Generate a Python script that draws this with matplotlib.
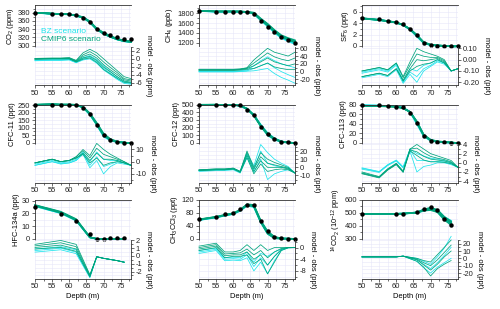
import numpy as np
import matplotlib.pyplot as plt
from matplotlib.ticker import MultipleLocator, AutoMinorLocator, FormatStrFormatter

plt.rcParams['font.family'] = ['Liberation Sans', 'DejaVu Sans']
plt.rcParams['mathtext.default'] = 'regular'
plt.rcParams['axes.unicode_minus'] = False

# depths of the firn samples (m)
depth_std = [50, 55, 57.5, 60, 62, 64, 66, 68, 70, 72, 74, 76, 78]
depth_hfc = [50, 57.5, 62, 66, 68, 70, 72, 74, 76]
depth_c14 = [50, 60, 62, 66, 68, 70, 72, 74, 76]

# observations
co2_obs = [380, 377.6, 376.8, 376, 373.5, 368, 356.6, 340.4, 331.5, 325, 320, 316.8, 315.2]
ch4_obs = [1848, 1834, 1834, 1834, 1832, 1820, 1786, 1650, 1527, 1411, 1309, 1255, 1200]
sf6_obs = [4.95, 4.65, 4.45, 4.15, 3.85, 3.0, 1.85, 0.6, 0.2, 0.08, 0.04, 0.03, 0.02]
cfc11_obs = [255, 255, 255, 254, 250, 230, 192, 118, 51, 18, 4, 1, 0]
cfc12_obs = [502, 502, 498, 498, 492, 430, 364, 211, 110, 48, 13, 4, 2]
cfc113_obs = [80, 80, 78, 76, 74.5, 62, 41, 14, 4.5, 1.5, 0.7, 0.3, 0.1]
hfc_obs = [25, 19.3, 14, 3.9, 0.2, 0.3, 0.5, 0.6, 0.8]
mcf_obs = [60, 67, 76, 81, 91, 106, 106, 56, 25, 7, 2, 1, 0.5]
c14_obs = [492, 492, 492, 505, 530, 546, 520, 456, 410]

# model - obs, CMIP6 scenario members
co2_cmip6 = [[0.1, 0.2, 0.2, 0.3, -0.4, 1.5, 2.4, 1.5, 0.0, -1.5, -3.0, -4.5, -5.0],
             [0.0, 0.1, 0.1, 0.2, -0.5, 1.0, 1.8, 0.8, -0.8, -2.2, -3.5, -5.0, -5.3],
             [0.0, 0.1, 0.1, 0.1, -0.6, 0.6, 1.2, 0.2, -1.5, -2.8, -4.0, -5.3, -5.6],
             [-0.1, 0.0, 0.0, 0.0, -0.7, 0.2, 0.6, -0.4, -2.1, -3.3, -4.5, -5.6, -5.9],
             [-0.1, 0.0, 0.0, 0.0, -0.8, -0.1, 0.2, -0.9, -2.7, -3.8, -4.9, -5.9, -6.1]]
ch4_cmip6 = [[6, 6, 6, 6, 7, 10, 30, 45, 60, 50, 45, 40, 50],
             [5, 5, 5, 5, 6, 9, 22, 35, 48, 38, 32, 28, 35],
             [4, 4, 4, 4, 5, 8, 15, 25, 35, 25, 20, 15, 20],
             [3, 3, 3, 3, 4, 6, 8, 15, 22, 12, 8, 5, 5]]
sf6_cmip6 = [[-0.10, -0.07, -0.09, -0.03, -0.15, -0.02, 0.10, 0.07, 0.05, 0.03, 0.0, -0.10, -0.08],
             [-0.10, -0.07, -0.09, -0.03, -0.16, -0.05, 0.05, 0.03, 0.02, 0.02, -0.01, -0.10, -0.08],
             [-0.15, -0.12, -0.14, -0.08, -0.18, -0.08, 0.00, -0.01, 0.00, 0.01, -0.02, -0.10, -0.08],
             [-0.15, -0.12, -0.14, -0.08, -0.19, -0.10, -0.06, -0.04, -0.03, 0.0, -0.03, -0.10, -0.08]]
cfc11_cmip6 = [[-1, 2, 0, 1, 4, 10, 5, 15, 10, 6, 3, 0, -3],
               [-1, 2, 0, 1, 4, 9, 3, 11, 6, 4, 2, 0, -3],
               [-1, 2, 0, 1, 3, 7, 1, 7, 2, 2, 1, -1, -3],
               [-1, 2, 0, 1, 3, 6, -1, 3, -3, -1, 0, -1, -3]]
cfc12_cmip6 = [[-3, -2, -2, -1, -5, 20, 0, 18, 10, 6, 3, 0, -7],
               [-3, -2, -2, -1, -5, 18, -2, 13, 5, 3, 1, -1, -7],
               [-4, -3, -3, -2, -6, 15, -5, 8, 0, 0, 0, -2, -7],
               [-4, -3, -3, -2, -6, 12, -8, 4, -5, -3, -2, -3, -7]]
cfc113_cmip6 = [[-2.0, -3.0, -1.3, -0.1, -1.8, 3.0, 4.0, 3.0, 2.0, 1.5, 1.0, 0.5, -1.0],
                [-2.2, -3.1, -1.4, -0.2, -1.9, 3.0, 3.2, 2.2, 1.4, 1.0, 0.7, 0.2, -1.0],
                [-2.3, -3.2, -1.5, -0.3, -2.0, 2.8, 2.4, 1.4, 0.8, 0.6, 0.4, 0.0, -1.0],
                [-2.4, -3.3, -1.6, -0.4, -2.1, 2.6, 1.6, 0.6, 0.2, 0.2, 0.1, -0.2, -1.0]]
hfc_cmip6 = [[1.5, 2.0, 1.5, -2.4, -0.1, -0.3, -0.45, -0.6, -0.8],
             [1.3, 1.7, 1.2, -2.5, -0.1, -0.3, -0.45, -0.6, -0.8],
             [1.1, 1.4, 0.9, -2.6, -0.1, -0.3, -0.45, -0.6, -0.8],
             [0.9, 1.1, 0.6, -2.7, -0.1, -0.3, -0.45, -0.6, -0.8]]
mcf_cmip6 = [[0.5, 1.5, -1.5, -1.5, -1.0, 1.0, -1.0, 1.0, -1.0, 0.0, 0.0, 0.0, 0.0],
             [0.0, 1.0, -2.2, -2.0, -1.8, -0.5, -2.5, -1.0, -3.5, -1.5, -0.3, 0.0, 0.0],
             [-0.5, 0.5, -2.8, -2.5, -2.5, -1.5, -4.0, -2.5, -6.0, -3.0, -0.6, 0.0, 0.0],
             [-1.0, 0.0, -3.5, -3.0, -3.0, -2.5, -5.5, -4.0, -9.0, -5.0, -1.0, -0.1, 0.0]]
c14_cmip6 = [[2, 2, 3, 0, -3, -5, 5, 15, 25],
             [2, 2, 3, -1, -6, -10, -2, 8, 18],
             [2, 2, 3, -2, -9, -16, -8, 2, 10],
             [2, 2, 3, -4, -12, -24, -14, -8, -3]]

# model - obs, BZ scenario members
co2_bz = [[-0.3, -0.2, -0.2, -0.1, -0.8, 0.3, 0.8, -0.2, -1.8, -3.2, -4.6, -5.7, -6.0],
          [-0.4, -0.3, -0.3, -0.2, -0.9, 0.0, 0.4, -0.7, -2.4, -3.7, -5.0, -6.0, -6.2],
          [-0.5, -0.4, -0.4, -0.3, -1.0, -0.3, 0.0, -1.1, -2.8, -4.0, -5.2, -6.2, -6.4]]
ch4_bz = [[1, 1, 1, 1, 2, 4, 15, 28, 38, 28, 20, 15, 10],
          [0, 0, 0, 0, 1, 2, 8, 15, 22, 10, 0, -8, -15],
          [-1, -1, -1, -1, 0, 1, 2, 5, 8, -5, -15, -22, -30]]
sf6_bz = [[-0.11, -0.08, -0.10, -0.04, -0.19, -0.08, -0.10, -0.05, -0.03, 0.0, -0.03, -0.10, -0.08],
          [-0.12, -0.09, -0.11, -0.05, -0.20, -0.11, -0.15, -0.08, -0.05, -0.01, -0.03, -0.10, -0.08],
          [-0.16, -0.13, -0.15, -0.09, -0.21, -0.13, -0.20, -0.10, -0.06, -0.02, -0.04, -0.10, -0.08]]
cfc11_bz = [[-2, 1, -1, 0, 2, 8, 0, 8, 2, 1, 1, -1, -3],
            [-3, 0, -1.5, -1, 1, 7, -3, 4, -4, -2, 0, -1, -3],
            [-3, 0, -2, -1, 1, 6, -5, 1, -10, -4, -1, -2, -3]]
cfc12_bz = [[-4, -3, -3, -2, -5, 17, 2, 28, 18, 10, 5, 1, -7],
            [-4, -3, -3, -2, -6, 15, -3, 20, 5, 2, 0, -1, -7],
            [-5, -4, -4, -3, -7, 12, -6, 10, -15, -8, -5, -3, -7]]
cfc113_bz = [[-1.1, -1.9, -0.4, 0.6, -0.9, 3.0, 2.0, 1.5, 1.0, 0.8, 0.5, 0.1, -1.0],
             [-1.2, -2.0, -0.5, 0.5, -1.0, 2.8, 0.5, 0.5, 0.3, 0.3, 0.2, -0.2, -1.0],
             [-1.4, -2.1, -0.6, 0.4, -1.1, 2.5, -2.0, -0.8, -0.5, 0.0, 0.0, -0.4, -1.0]]
hfc_bz = [[0.9, 1.2, 0.8, -2.6, -0.1, -0.3, -0.45, -0.6, -0.8],
          [0.7, 1.0, 0.5, -2.7, -0.1, -0.3, -0.45, -0.6, -0.8],
          [0.5, 0.8, 0.3, -2.8, -0.1, -0.3, -0.45, -0.6, -0.8]]
mcf_bz = [[-1.0, -0.2, -3.5, -3.3, -3.5, -1.5, -5.0, -2.0, -3.0, -1.5, -0.5, 0.0, 0.0],
          [-1.5, -0.6, -4.0, -3.8, -4.0, -2.5, -6.5, -3.5, -6.0, -3.0, -0.8, 0.0, 0.0],
          [-2.0, -1.0, -4.5, -4.3, -4.5, -3.5, -8.0, -5.0, -9.0, -4.5, -1.0, -0.1, 0.0]]
c14_bz = [[2, 2, 3, 0, -4, -8, 2, 14, 30],
          [2, 2, 3, -2, -8, -14, -6, 4, 15],
          [2, 2, 3, -4, -13, -20, -12, -6, 0]]

BZ = '#1EE4EC'
CMIP6 = '#00A47C'
GRID = '#E6E6F8'

# label, unit, depths, obs, cmip6, bz, upper ylim, upper step, lower ylim, lower step, lower fmt
panels = [
    ('CO$_2$ (ppm)', 'ppm', depth_std, co2_obs, co2_cmip6, co2_bz, (298, 398.6), 20, (-6.6, 3.1), 2, '%d'),
    ('CH$_4$ (ppb)', 'ppb', depth_std, ch4_obs, ch4_cmip6, ch4_bz, (1122, 1970), 200, (-34.6, 64.7), 20, '%d'),
    ('SF$_6$ (ppt)', 'ppt', depth_std, sf6_obs, sf6_cmip6, sf6_bz, (-0.09, 7.16), 2, (-0.224, 0.116), 0.1, '%.2f'),
    ('CFC-11 (ppt)', 'ppt', depth_std, cfc11_obs, cfc11_cmip6, cfc11_bz, (-9, 255.6), 50, (-17.1, 14.5), 10, '%d'),
    ('CFC-12 (ppt)', 'ppt', depth_std, cfc12_obs, cfc12_cmip6, cfc12_bz, (-17.5, 502), 100, (-18.6, 28.6), 10, '%d'),
    ('CFC-113 (ppt)', 'ppt', depth_std, cfc113_obs, cfc113_cmip6, cfc113_bz, (-2.8, 80.4), 20, (-4.3, 4.1), 2, '%d'),
    ('HFC-134a (ppt)', 'ppt', depth_hfc, hfc_obs, hfc_cmip6, hfc_bz, (-0.8, 30.4), 10, (-2.9, 2.06), 1, '%d'),
    ('CH$_3$CCl$_3$ (ppt)', 'ppt', depth_std, mcf_obs, mcf_cmip6, mcf_bz, (-3.1, 120), 40, (-10.6, 2.6), 4, '%d'),
    ('$^{14}$CO$_2$ (10$^{-12}$ ppm)', 'ppt', depth_c14, c14_obs, c14_cmip6, c14_bz, (292, 600), 100, (-27.5, 25), 10, '%d'),
]

W, H = 500, 309
col_left = [35, 199, 362]
col_w = 96
rows = [(5, 46.5, 85), (104.5, 144, 182.5), (200, 240, 278.5)]
FS = 5.4

fig = plt.figure(figsize=(W / 100, H / 100), dpi=100)

def add_px_axes(left, top, bottom):
    return fig.add_axes([left / W, 1 - bottom / H, col_w / W, (bottom - top) / H])

for i, (label, unit, depth, obs, cmip6, bz, ulim, ustep, llim, lstep, fmt) in enumerate(panels):
    r, c = divmod(i, 3)
    top, split, bottom = rows[r]
    up = add_px_axes(col_left[c], top, split)
    lo = add_px_axes(col_left[c], split, bottom)

    for ax in (up, lo):
        ax.set_xlim(50, 78)
        ax.xaxis.set_major_locator(MultipleLocator(5))
        ax.xaxis.set_minor_locator(MultipleLocator(2.5))
        ax.yaxis.set_minor_locator(AutoMinorLocator(2))
        ax.grid(True, which='both', color=GRID, lw=0.4)
        ax.set_axisbelow(True)
        ax.patch.set_alpha(0)
        for s in ax.spines.values():
            s.set_linewidth(0.6)
            s.set_color('#333333')
        ax.tick_params(which='both', direction='out', width=0.5, colors='#333333',
                       labelsize=FS, pad=1, labelcolor='#222222')
        ax.tick_params(which='major', length=2.4)
        ax.tick_params(which='minor', length=1.3)

    # upper: concentrations
    up.set_ylim(*ulim)
    up.yaxis.set_major_locator(MultipleLocator(ustep))
    up.spines['right'].set_visible(False)
    up.spines['bottom'].set_visible(False)
    up.tick_params(axis='x', which='both', bottom=False, labelbottom=False)
    up.set_ylabel(label, fontsize=FS, labelpad=1.5)

    # lower: model - obs
    lo.set_ylim(*llim)
    lo.yaxis.set_major_locator(MultipleLocator(lstep))
    lo.yaxis.set_major_formatter(FormatStrFormatter(fmt))
    lo.spines['left'].set_visible(False)
    lo.spines['top'].set_visible(False)
    lo.yaxis.tick_right()
    lo.yaxis.set_label_position('right')
    lo.set_ylabel('model - obs (%s)' % unit, fontsize=FS, rotation=270,
                  va='bottom', labelpad=2)
    if r == 2:
        lo.set_xlabel('Depth (m)', fontsize=FS, labelpad=2)

    for members, col in ((bz, BZ), (cmip6, CMIP6)):
        for m in members:
            lo.plot(depth, m, color=col, lw=0.55, clip_on=False)
            up.plot(depth, np.add(obs, m), color=col, lw=1.1, clip_on=False)
    up.plot(depth, obs, 'o', color='black', ms=3.2, mew=0, clip_on=False, zorder=5)

    if i == 0:
        up.text(0.06, 0.35, 'BZ scenario', transform=up.transAxes, color=BZ,
                fontsize=6, va='center')
        up.text(0.06, 0.157, 'CMIP6 scenario', transform=up.transAxes, color=CMIP6,
                fontsize=6, va='center')

fig.savefig('out.png', dpi=100)
